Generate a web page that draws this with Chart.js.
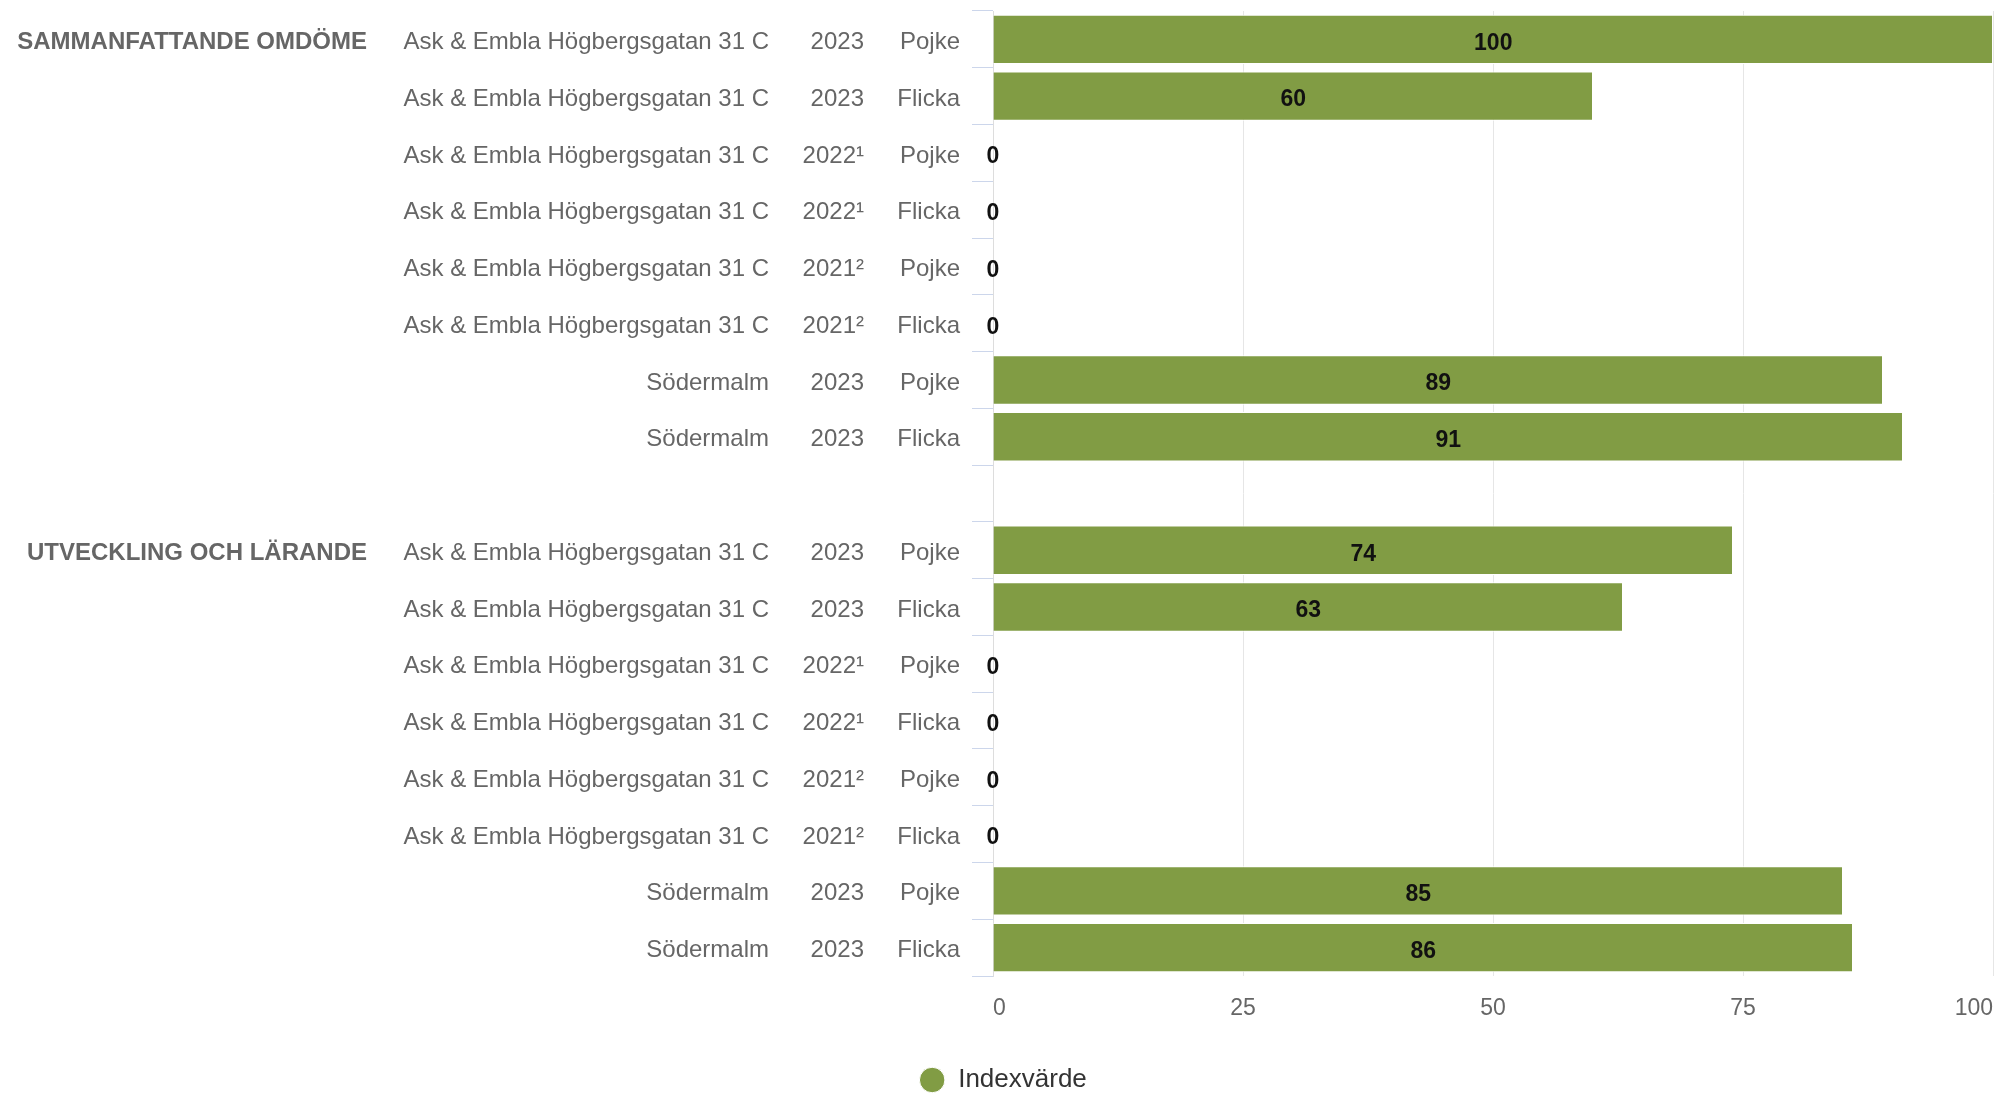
<!DOCTYPE html>
<html>
<head>
<meta charset="utf-8">
<script src="https://cdn.jsdelivr.net/npm/chart.js@4"></script>
<style>
html, body { margin: 0; padding: 0; background: #fff; }
#wrap { width: 1996px; height: 1094px; }
</style>
</head>
<body>
<div id="wrap"><canvas id="indexChart"></canvas></div>
<script>
// one row per bar, row 8 is the empty gap between the two groups
const groups = ['SAMMANFATTANDE OMDÖME', '', '', '', '', '', '', '', '',
                'UTVECKLING OCH LÄRANDE', '', '', '', '', '', '', ''];
const schools = ['Ask & Embla Högbergsgatan 31 C', 'Ask & Embla Högbergsgatan 31 C',
                 'Ask & Embla Högbergsgatan 31 C', 'Ask & Embla Högbergsgatan 31 C',
                 'Ask & Embla Högbergsgatan 31 C', 'Ask & Embla Högbergsgatan 31 C',
                 'Södermalm', 'Södermalm', '',
                 'Ask & Embla Högbergsgatan 31 C', 'Ask & Embla Högbergsgatan 31 C',
                 'Ask & Embla Högbergsgatan 31 C', 'Ask & Embla Högbergsgatan 31 C',
                 'Ask & Embla Högbergsgatan 31 C', 'Ask & Embla Högbergsgatan 31 C',
                 'Södermalm', 'Södermalm'];
const years = ['2023', '2023', '2022¹', '2022¹', '2021²', '2021²', '2023', '2023', '',
               '2023', '2023', '2022¹', '2022¹', '2021²', '2021²', '2023', '2023'];
const genders = ['Pojke', 'Flicka', 'Pojke', 'Flicka', 'Pojke', 'Flicka', 'Pojke', 'Flicka', '',
                 'Pojke', 'Flicka', 'Pojke', 'Flicka', 'Pojke', 'Flicka', 'Pojke', 'Flicka'];
const indexValues = [100, 60, 0, 0, 0, 0, 89, 91, null, 74, 63, 0, 0, 0, 0, 85, 86];
const xTicks = [0, 25, 50, 75, 100];

Chart.defaults.font.family = '"Liberation Sans", Arial, sans-serif';
Chart.defaults.color = '#666666';

// fixed widths for the stacked label columns (they are wider than chart.js allows by default)
function fixWidth(w) {
    return scale => {
        scale.width = w;
        scale.paddingTop = 0;
        scale.paddingBottom = 0;
    };
}

const barValueLabels = {
    id: 'barValueLabels',
    afterDatasetsDraw(chart) {
        const ctx = chart.ctx;
        const meta = chart.getDatasetMeta(0);
        ctx.save();
        ctx.font = 'bold 23px "Liberation Sans", Arial, sans-serif';
        ctx.fillStyle = '#111111';
        ctx.textAlign = 'center';
        ctx.textBaseline = 'middle';
        meta.data.forEach((bar, i) => {
            if (indexValues[i] === null) return;
            ctx.fillText(String(indexValues[i]), (bar.x + bar.base) / 2, bar.y + 4);
        });
        ctx.restore();
    }
};

new Chart(document.getElementById('indexChart'), {
    type: 'bar',
    data: {
        labels: genders,
        datasets: [{
            label: 'Indexvärde',
            data: indexValues,
            backgroundColor: '#819c44',
            borderColor: '#ffffff',
            borderWidth: 1,
            barPercentage: 0.87,
            categoryPercentage: 1
        }]
    },
    options: {
        indexAxis: 'y',
        responsive: true,
        maintainAspectRatio: false,
        animation: false,
        layout: { padding: { top: 11, left: 13, right: 3, bottom: -9 } },
        plugins: {
            tooltip: { enabled: false },
            legend: {
                position: 'bottom',
                labels: {
                    usePointStyle: true,
                    pointStyle: 'circle',
                    boxWidth: 26,
                    boxHeight: 18,
                    color: '#333333',
                    font: { size: 26 }
                }
            }
        },
        scales: {
            x: {
                min: 0,
                max: 100,
                afterBuildTicks: s => { s.ticks = xTicks.map(v => ({ value: v })); },
                ticks: { align: 'inner', padding: 19, font: { size: 23 }, color: '#666666' },
                grid: { color: '#e6e6e6', drawTicks: false },
                border: { display: false },
                afterFit: s => { s.paddingRight = 0; s.height = 81; }
            },
            y: {
                type: 'category',
                offset: true,
                weight: 0,
                ticks: { padding: 12, labelOffset: 3, font: { size: 24 }, autoSkip: false },
                grid: { display: true, drawOnChartArea: false, offset: true, tickLength: 21, color: '#ccd6eb' },
                border: { display: true, color: '#dddddd' },
                afterFit: fixWidth(96)
            },
            yYear: {
                type: 'category',
                axis: 'y',
                position: 'left',
                labels: years,
                offset: true,
                weight: 1,
                ticks: { padding: 33, labelOffset: 3, font: { size: 24 }, autoSkip: false },
                grid: { display: false, drawTicks: false },
                border: { display: false },
                afterFit: fixWidth(94)
            },
            ySchool: {
                type: 'category',
                axis: 'y',
                position: 'left',
                labels: schools,
                offset: true,
                weight: 2,
                ticks: { padding: 34, labelOffset: 3, font: { size: 24 }, autoSkip: false },
                grid: { display: false, drawTicks: false },
                border: { display: false },
                afterFit: fixWidth(403)
            },
            yGroup: {
                type: 'category',
                axis: 'y',
                position: 'left',
                labels: groups,
                offset: true,
                weight: 3,
                ticks: { padding: 33, labelOffset: 3, font: { size: 24, weight: 'bold' }, autoSkip: false },
                grid: { display: false, drawTicks: false },
                border: { display: false },
                afterFit: fixWidth(387)
            }
        }
    },
    plugins: [barValueLabels]
});
</script>
</body>
</html>
